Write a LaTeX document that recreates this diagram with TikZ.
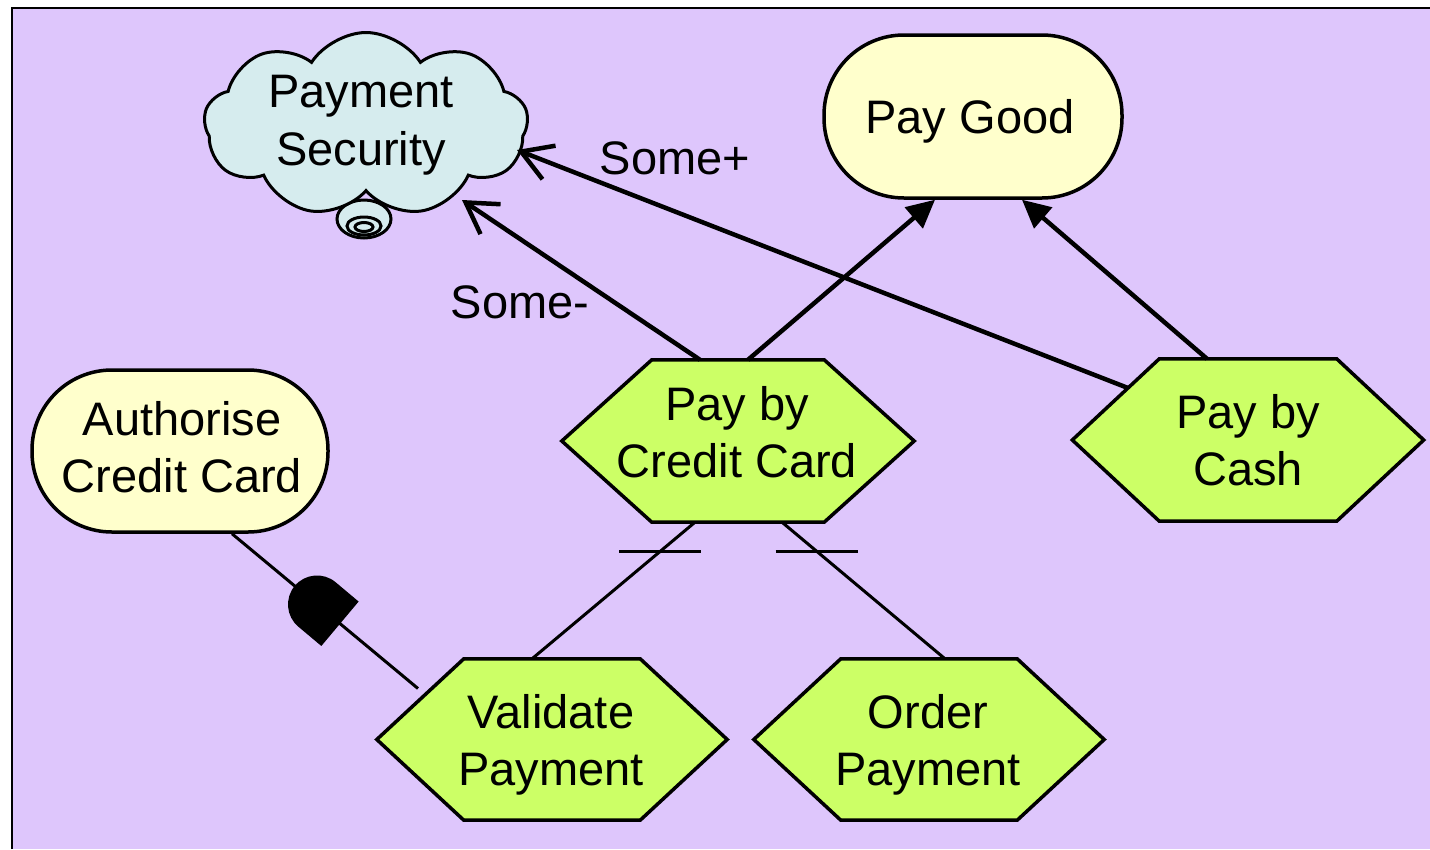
\documentclass[tikz,border=0pt]{standalone}
\usepackage{fontspec}
\setmainfont{Liberation Sans}
\usetikzlibrary{arrows.meta,shapes.symbols,calc}
\definecolor{bgpurple}{RGB}{222,198,252}
\definecolor{taskgreen}{RGB}{204,255,102}
\definecolor{goalyellow}{RGB}{255,255,204}
\definecolor{softblue}{RGB}{214,236,238}
\tikzset{
  lbl/.style={font=\fontsize{47}{57.5}\selectfont, align=center, inner sep=0pt, text=black},
  hexnode/.style={draw=none, inner sep=0pt, rectangle},
  hexshape/.style={draw=black, line width=3.5pt, fill=taskgreen, line join=miter},
  goalbox/.style={draw=black, line width=3.5pt, fill=goalyellow, rounded corners=80pt, inner sep=0pt},
  contrib/.style={line width=4.5pt},
  decomp/.style={line width=3pt},
  openhead/.style={-{Straight Barb[length=30pt,width=36pt]}},
  fullhead/.style={-{Triangle[length=28pt,width=27pt]}},
}
\begin{document}
\begin{tikzpicture}[x=1pt,y=-1pt]
\useasboundingbox (0,0) rectangle (1430,849);
\fill[white] (0,0) rectangle (1430,849);
\fill[bgpurple] (12,8) rectangle (1430,849);
\draw[line width=2pt] (12,849) -- (12,8) -- (1430,8);

% softgoal cloud with bulb
\draw[line width=3pt, fill=softblue] (364,219) ellipse [x radius=27, y radius=19];
\draw[line width=3pt] (364,226) ellipse [x radius=17, y radius=9];
\draw[line width=3pt] (364,227) ellipse [x radius=9, y radius=4.5];
\node[cloud, draw=black, line width=3pt, fill=softblue, cloud puffs=9, cloud puff arc=115, aspect=1.75,
      minimum width=324pt, minimum height=184pt, inner sep=0pt] (sec) at (366,124.5) {};
\node[lbl] (sectxt) at (361,125) {Payment\\Security};

% goals
\node[goalbox, minimum width=298pt, minimum height=163pt] (pg) at (973,116.5) {};
\node[lbl] (pgtxt) at (970,121.5) {Pay Good};
\node[goalbox, minimum width=296pt, minimum height=162pt] (auth) at (180,451) {};
\node[lbl] (authtxt) at (182,447) {Authorise\\Credit Card};

% tasks (hexagons)
\node[hexnode, minimum width=352pt, minimum height=162pt] (pcc) at (738,441) {};
\draw[hexshape] (pcc.west) -- ([xshift=90pt]pcc.north west) -- ([xshift=-90pt]pcc.north east)
  -- (pcc.east) -- ([xshift=-90pt]pcc.south east) -- ([xshift=90pt]pcc.south west) -- cycle;
\node[lbl] (pcctxt) at (737,432) {Pay by\\Credit Card};

\node[hexnode, minimum width=351pt, minimum height=162pt] (cash) at (1248,440) {};
\draw[hexshape] (cash.west) -- ([xshift=87pt]cash.north west) -- ([xshift=-87pt]cash.north east)
  -- (cash.east) -- ([xshift=-87pt]cash.south east) -- ([xshift=87pt]cash.south west) -- cycle;
\node[lbl] (cashtxt) at (1248,440) {Pay by\\Cash};

\node[hexnode, minimum width=350pt, minimum height=161pt] (val) at (552,739.5) {};
\draw[hexshape] (val.west) -- ([xshift=87pt]val.north west) -- ([xshift=-87pt]val.north east)
  -- (val.east) -- ([xshift=-87pt]val.south east) -- ([xshift=87pt]val.south west) -- cycle;
\node[lbl] (valtxt) at (551,745) {Validate\\Payment};

\node[hexnode, minimum width=350pt, minimum height=161pt] (ord) at (929,739.5) {};
\draw[hexshape] (ord.west) -- ([xshift=87pt]ord.north west) -- ([xshift=-87pt]ord.north east)
  -- (ord.east) -- ([xshift=-87pt]ord.south east) -- ([xshift=87pt]ord.south west) -- cycle;
\node[lbl] (ordtxt) at (928,745) {Order\\Payment};

% contributions to softgoal
\draw[contrib, openhead] ([xshift=-38pt]pcc.north) -- ([shift={(96,75.5)}]sec.center);
\draw[contrib, openhead] ([shift={(-120,-52)}]cash.center) -- ([shift={(151,25.5)}]sec.center);
\node[lbl] (someminus) at (520,302) {Some-};
\node[lbl] (someplus) at (675,158) {Some+};

% means-end to goal
\draw[contrib, fullhead] ([xshift=10pt]pcc.north) -- ([xshift=-38pt]pg.south);
\draw[contrib, fullhead] ([xshift=-41pt]cash.north) -- ([xshift=49pt]pg.south);

% decompositions
\draw[decomp] ([xshift=-20pt]val.north) -- ([xshift=-43pt]pcc.south) coordinate[pos=0.788] (b1);
\draw[decomp] ([xshift=16pt]ord.north) -- ([xshift=44pt]pcc.south) coordinate[pos=0.788] (b2);
\draw[decomp] ([xshift=-41pt]b1) -- ([xshift=41pt]b1);
\draw[decomp] ([xshift=-41pt]b2) -- ([xshift=41pt]b2);

% dependency
\draw[decomp] ([xshift=52pt]auth.south) -- ([shift={(-134,-51)}]val.center) coordinate[pos=0.457] (dm);
\fill[black, shift={(dm)}, rotate=-40] (30,-29) -- (0,-29) arc[start angle=270, end angle=90, radius=29] -- (30,29) -- cycle;
\end{tikzpicture}
\end{document}
